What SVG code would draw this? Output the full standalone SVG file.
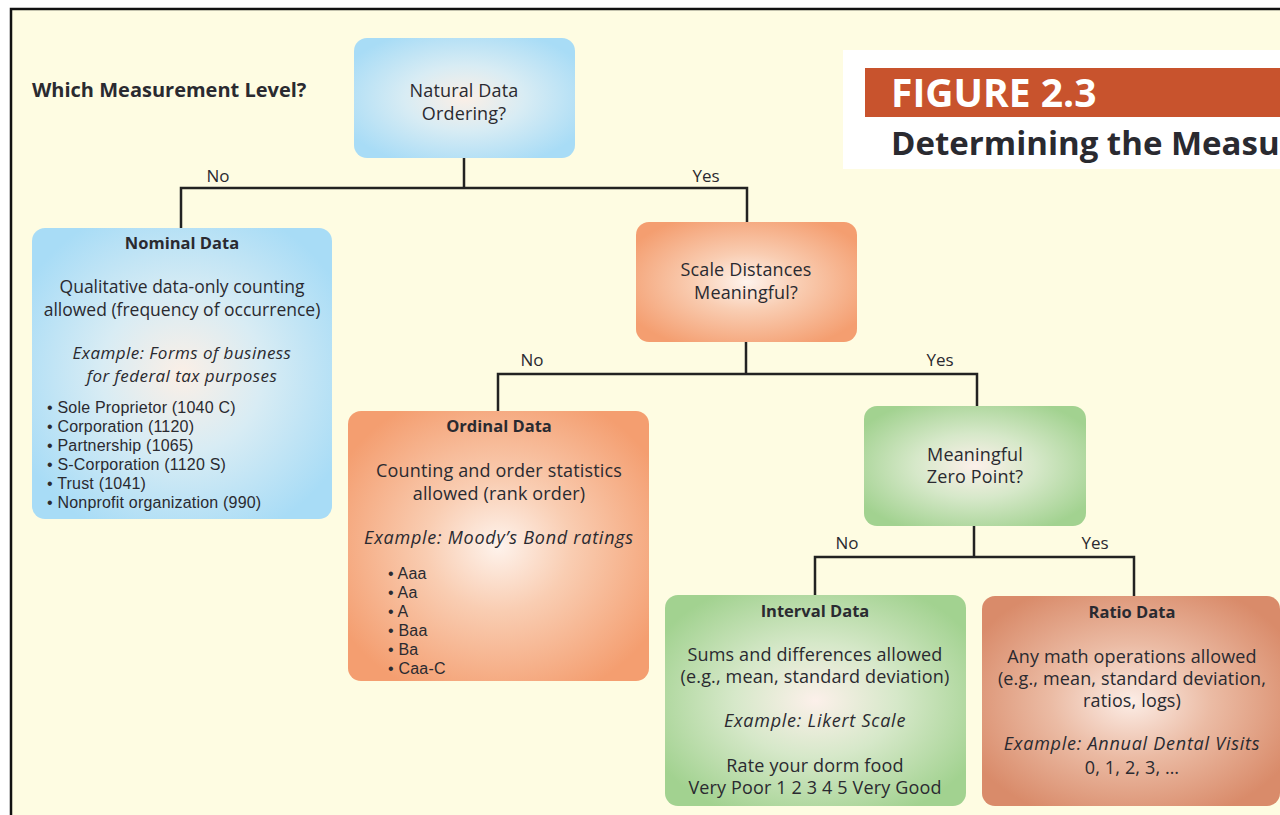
<svg xmlns="http://www.w3.org/2000/svg" width="1280" height="815" viewBox="0 0 1280 815">
<defs>
<radialGradient id="gBlue" cx="0.5" cy="0.5" r="0.6">
<stop offset="0" stop-color="#FBEFE6"/>
<stop offset="0.45" stop-color="#D8ECF4"/>
<stop offset="1" stop-color="#A8DCF6"/>
</radialGradient>
<radialGradient id="gOrange" cx="0.5" cy="0.5" r="0.6">
<stop offset="0" stop-color="#FEF3EC"/>
<stop offset="0.4" stop-color="#F9CDB2"/>
<stop offset="1" stop-color="#F49E70"/>
</radialGradient>
<radialGradient id="gGreen" cx="0.5" cy="0.5" r="0.6">
<stop offset="0" stop-color="#FCF0EA"/>
<stop offset="0.45" stop-color="#D6E8C9"/>
<stop offset="1" stop-color="#A2D290"/>
</radialGradient>
<radialGradient id="gRatio" cx="0.5" cy="0.5" r="0.6">
<stop offset="0" stop-color="#FCEDE6"/>
<stop offset="0.45" stop-color="#EBBBA4"/>
<stop offset="1" stop-color="#D98B6A"/>
</radialGradient>
</defs>
<style>
text{font-family:"Open Sans","Noto Sans","Liberation Sans",sans-serif;fill:#2a2a30;font-size:18px;letter-spacing:0.15px;text-anchor:middle}
.b{font-weight:bold;font-size:16.5px;letter-spacing:0}
.i{font-style:italic;letter-spacing:0.75px}
.n{font-size:17.5px;letter-spacing:0}
.ni{font-size:17px;letter-spacing:0.45px}
.l{text-anchor:start;font-family:"Liberation Sans","Open Sans",sans-serif;font-size:16px;letter-spacing:0.2px}
.lbl{font-size:17px;letter-spacing:0}
.con{fill:none;stroke:#222;stroke-width:2.5}
</style>
<rect x="0" y="0" width="1280" height="815" fill="#ffffff"/>
<rect x="11" y="9" width="1290" height="830" fill="#FEFCE2" stroke="#111" stroke-width="2.5"/>

<g id="figure-title">
<rect x="843" y="50" width="440" height="119" fill="#ffffff"/>
<rect x="865" y="68" width="420" height="49" fill="#C8532D"/>
<text x="891" y="107" class="b" style="font-size:39px;fill:#ffffff;text-anchor:start">FIGURE 2.3</text>
<text x="891" y="155" class="b" style="font-size:33px;fill:#2a2a30;text-anchor:start">Determining the Measu</text>
</g>

<g id="heading">
<text x="32" y="97" class="b" style="font-size:20px;text-anchor:start">Which Measurement Level?</text>
</g>

<g id="connectors">
<polyline class="con" points="464,158 464,188"/>
<polyline class="con" points="181,228 181,188 747,188 747,222"/>
<polyline class="con" points="746,342 746,374"/>
<polyline class="con" points="498,411 498,374 977,374 977,406"/>
<polyline class="con" points="974,526 974,557"/>
<polyline class="con" points="815,596 815,557 1134,557 1134,597"/>
<text x="218" y="182" class="lbl">No</text>
<text x="706" y="182" class="lbl">Yes</text>
<text x="532" y="366" class="lbl">No</text>
<text x="940" y="366" class="lbl">Yes</text>
<text x="847" y="549" class="lbl">No</text>
<text x="1095" y="549" class="lbl">Yes</text>
</g>

<g id="natural-data-ordering">
<rect x="354" y="38" width="221" height="120" rx="13" fill="url(#gBlue)"/>
<text x="464" y="97">Natural Data</text>
<text x="464" y="120">Ordering?</text>
</g>

<g id="nominal-data">
<rect x="32" y="228" width="300" height="291" rx="13" fill="url(#gBlue)"/>
<text x="182" y="249" class="b">Nominal Data</text>
<text x="182" y="293" class="n">Qualitative data-only counting</text>
<text x="182" y="316" class="n">allowed (frequency of occurrence)</text>
<text x="182" y="359" class="i ni">Example: Forms of business</text>
<text x="182" y="382" class="i ni">for federal tax purposes</text>
<text x="47" y="413" class="l">• Sole Proprietor (1040 C)</text>
<text x="47" y="432" class="l">• Corporation (1120)</text>
<text x="47" y="451" class="l">• Partnership (1065)</text>
<text x="47" y="470" class="l">• S-Corporation (1120 S)</text>
<text x="47" y="489" class="l">• Trust (1041)</text>
<text x="47" y="508" class="l">• Nonprofit organization (990)</text>
</g>

<g id="scale-distances">
<rect x="636" y="222" width="221" height="120" rx="13" fill="url(#gOrange)"/>
<text x="746" y="276">Scale Distances</text>
<text x="746" y="299">Meaningful?</text>
</g>

<g id="ordinal-data">
<rect x="348" y="411" width="301" height="270" rx="13" fill="url(#gOrange)"/>
<text x="499" y="432" class="b">Ordinal Data</text>
<text x="499" y="477">Counting and order statistics</text>
<text x="499" y="500">allowed (rank order)</text>
<text x="499" y="544" class="i">Example: Moody’s Bond ratings</text>
<text x="388" y="579" class="l">• Aaa</text>
<text x="388" y="598" class="l">• Aa</text>
<text x="388" y="617" class="l">• A</text>
<text x="388" y="636" class="l">• Baa</text>
<text x="388" y="655" class="l">• Ba</text>
<text x="388" y="674" class="l">• Caa-C</text>
</g>

<g id="meaningful-zero">
<rect x="864" y="406" width="222" height="120" rx="13" fill="url(#gGreen)"/>
<text x="975" y="461">Meaningful</text>
<text x="975" y="483">Zero Point?</text>
</g>

<g id="interval-data">
<rect x="665" y="595" width="301" height="211" rx="13" fill="url(#gGreen)"/>
<text x="815" y="617" class="b">Interval Data</text>
<text x="815" y="661">Sums and differences allowed</text>
<text x="815" y="683">(e.g., mean, standard deviation)</text>
<text x="815" y="727" class="i">Example: Likert Scale</text>
<text x="815" y="772">Rate your dorm food</text>
<text x="815" y="794">Very Poor 1 2 3 4 5 Very Good</text>
</g>

<g id="ratio-data">
<rect x="982" y="596" width="298" height="210" rx="13" fill="url(#gRatio)"/>
<text x="1132" y="618" class="b">Ratio Data</text>
<text x="1132" y="663">Any math operations allowed</text>
<text x="1132" y="685">(e.g., mean, standard deviation,</text>
<text x="1132" y="707">ratios, logs)</text>
<text x="1132" y="750" class="i">Example: Annual Dental Visits</text>
<text x="1132" y="774">0, 1, 2, 3, …</text>
</g>
</svg>
